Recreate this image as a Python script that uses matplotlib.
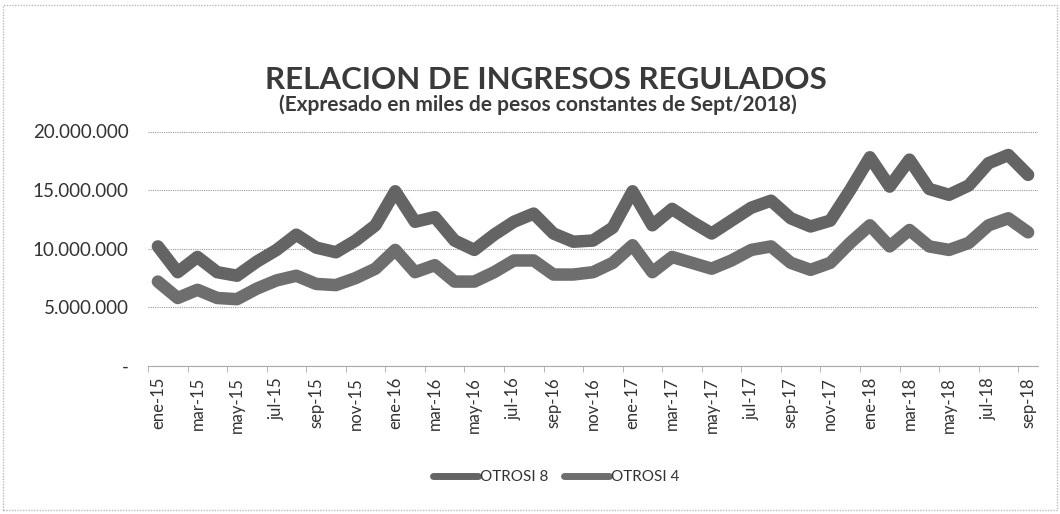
import matplotlib
matplotlib.use("Agg")
import matplotlib.pyplot as plt
from matplotlib.ticker import FuncFormatter, FixedLocator
from matplotlib.patches import Rectangle

plt.rcParams['font.family'] = ['Lato', 'DejaVu Sans']

# months ene-15 .. sep-18
meses = ["ene", "feb", "mar", "abr", "may", "jun", "jul", "ago", "sep", "oct", "nov", "dic"]
labels = [f"{meses[i % 12]}-{15 + i // 12}" for i in range(45)]

# values in millions of pesos
otrosi_8 = [10.2, 8.0, 9.3, 8.0, 7.7, 8.9, 9.9, 11.2, 10.1, 9.7,
            10.7, 12.0, 14.9, 12.3, 12.7, 10.7, 9.9, 11.2, 12.3, 13.0,
            11.3, 10.6, 10.7, 11.8, 14.9, 12.0, 13.4, 12.3, 11.3, 12.4,
            13.5, 14.1, 12.6, 11.9, 12.4, 15.0, 17.8, 15.3, 17.6, 15.1,
            14.6, 15.4, 17.3, 18.0, 16.3]
otrosi_4 = [7.2, 5.8, 6.5, 5.8, 5.7, 6.6, 7.3, 7.7, 7.0, 6.9,
            7.5, 8.3, 9.9, 8.0, 8.6, 7.2, 7.2, 8.0, 9.0, 9.0,
            7.8, 7.8, 8.0, 8.8, 10.3, 8.0, 9.3, 8.8, 8.3, 9.0,
            9.9, 10.2, 8.8, 8.2, 8.8, 10.5, 12.0, 10.2, 11.6, 10.2,
            9.9, 10.5, 12.0, 12.6, 11.4]

x = list(range(len(labels)))
y8 = [v * 1e6 for v in otrosi_8]
y4 = [v * 1e6 for v in otrosi_4]

fig = plt.figure(figsize=(10.6, 5.14), dpi=100)
ax = fig.add_axes([148 / 1060, 1 - 366 / 514, 890 / 1060, (366 - 131.5) / 514])

line_kw = dict(lw=9, solid_joinstyle="round", solid_capstyle="round")
ax.plot(x, y8, color="#646464", label="OTROSI 8", **line_kw)
ax.plot(x, y4, color="#6e6e6e", label="OTROSI 4", **line_kw)

ax.set_xlim(-0.5, 44.5)
ax.set_ylim(0, 20e6)
ax.set_yticks([0, 5e6, 10e6, 15e6, 20e6])
ax.yaxis.set_major_formatter(FuncFormatter(
    lambda v, p: "-" if v == 0 else f"{int(v):,}".replace(",", ".")))
ax.grid(axis="y", color="#9a9a9a", lw=0.8, ls=(0, (1, 1)))
ax.set_axisbelow(True)

ax.set_xticks(x[::2])
ax.set_xticklabels(labels[::2], rotation=90, fontsize=12, color="#333333")
ax.xaxis.set_minor_locator(FixedLocator([i - 0.5 for i in range(0, 46, 2)]))
ax.tick_params(axis="x", which="major", length=0, pad=8)
ax.tick_params(axis="x", which="minor", length=4, color="#aaaaaa")
ax.tick_params(axis="y", length=0, pad=14, labelsize=13.5, labelcolor="#333333")

for s in ["left", "right", "top"]:
    ax.spines[s].set_visible(False)
ax.spines["bottom"].set_color("#aaaaaa")
ax.spines["bottom"].set_linestyle((0, (1, 1)))

fig.text(0.515, 1 - 80 / 514, "RELACION DE INGRESOS REGULADOS", ha="center", va="center",
         fontsize=22.5, fontweight="bold", color="#3a3a3a")
fig.text(0.507, 1 - 105 / 514, "(Expresado en miles de pesos constantes de Sept/2018)",
         ha="center", va="center", fontsize=15, fontweight="bold", color="#3a3a3a")

leg = fig.legend(loc="center", bbox_to_anchor=(556 / 1060, 1 - 477 / 514), ncol=2,
                 frameon=False, fontsize=11, handlelength=3.0, columnspacing=1.0,
                 handletextpad=0.1)
for h in leg.get_lines():
    h.set_linewidth(5)
for t in leg.get_texts():
    t.set_color("#333333")

fig.patches.append(Rectangle((3 / 1060, 1 - 510 / 514), 1 - 6 / 1060, 505 / 514,
                             transform=fig.transFigure, fill=False, ec="#bbbbbb",
                             lw=1, ls=(0, (1, 1))))

fig.savefig("out.png", dpi=100)
